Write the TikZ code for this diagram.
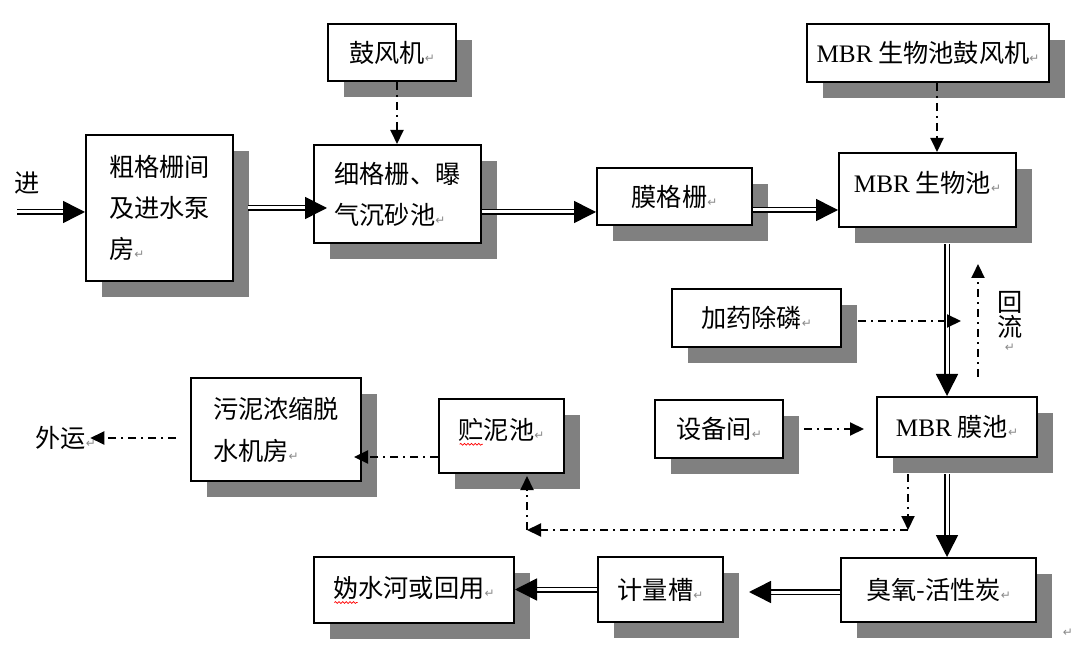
\documentclass[tikz,border=0pt]{standalone}
\usepackage{fontspec}
\setmainfont{Liberation Serif}
\newfontfamily\cjk{Noto Sans CJK SC}
\newfontfamily\djv{DejaVu Sans}
\newfontfamily\lat{Liberation Serif}
\usetikzlibrary{arrows.meta,shadows,calc,decorations.pathmorphing}
\definecolor{shgray}{HTML}{808080}
\definecolor{pmgray}{HTML}{8A8A8A}
\newcommand\ret{\textcolor{pmgray}{\djv\fontsize{6}{6}\selectfont ↵}}
\newcommand\redwave[1]{\rlap{#1}\tikz[baseline=0pt,x=1pt,y=1pt]{\path (0,0) (12.6,0);
  \draw[red, line width=0.35pt, decorate, decoration={snake,amplitude=0.45pt,segment length=1.8pt}]
    (0.5,-2.6) -- (12.1,-2.6);}}
\tikzset{
  box/.style={draw, line width=1pt, fill=white, align=left, inner sep=0pt,
    drop shadow={shadow xshift=8pt, shadow yshift=-8pt, fill=shgray, opacity=1},
    font=\cjk\fontsize{12.6}{20.5}\selectfont},
  lbl/.style={inner sep=0pt, font=\cjk\fontsize{12.6}{12.5}\selectfont},
  dbl/.style={double, double distance=1.5pt, line width=0.75pt, -{Triangle[length=11pt,width=11pt]}},
  dd/.style={line width=1pt, dash pattern=on 4pt off 2.5pt on 1pt off 2.5pt, -{Triangle[length=7pt,width=6.5pt]}},
}
\begin{document}
\begin{tikzpicture}[x=0.5pt,y=-0.5pt]
\path[fill=white,use as bounding box] (0,0) rectangle (1080,651);

% boxes
\node[box, minimum width=73.5pt, minimum height=73pt] (n1) at (159.5,208) {粗格栅间\\及进水泵\\房\ret};
\node[box, minimum width=64pt, minimum height=28.5pt] (fan1) at (392,52.5) {鼓风机\ret};
\node[box, minimum width=83.5pt, minimum height=49pt] (n2) at (397.5,194) {细格栅、曝\\气沉砂池\ret};
\node[box, minimum width=77.5pt, minimum height=28.5pt] (n3) at (674.5,196.5) {膜格栅\ret};
\node[box, minimum width=121pt, minimum height=29pt] (fan2) at (928,53) {{\lat MBR} 生物池鼓风机\ret};
\node[box, minimum width=88.5pt, minimum height=37pt, text depth=8.5pt] (n4) at (927.5,190) {{\lat MBR} 生物池\ret};
\node[box, minimum width=84.5pt, minimum height=29pt] (dose) at (756.5,318) {加药除磷\ret};
\node[box, minimum width=64pt, minimum height=29pt] (equip) at (719,429) {设备间\ret};
\node[box, minimum width=80pt, minimum height=30pt] (n5) at (957,427) {{\lat MBR} 膜池\ret};
\node[box, minimum width=85pt, minimum height=51.5pt] (dew) at (276,429.5) {污泥浓缩脱\\[0.5pt]水机房\ret};
\node[box, minimum width=62.5pt, minimum height=37pt, text depth=7.5pt] (store) at (501.5,436) {\redwave{贮}泥池\ret};
\node[box, minimum width=97.5pt, minimum height=32pt] (n6) at (938.5,590) {臭氧-活性炭\ret};
\node[box, minimum width=62.5pt, minimum height=32.5pt] (meter) at (660.5,589.5) {计量槽\ret};
\node[box, minimum width=100pt, minimum height=33pt] (out) at (414,590) {\redwave{妫}水河或回用\ret};

% labels
\node[lbl] (inlbl) at (27,183) {进};
\node[lbl, anchor=west] (ship) at (35,438) {外运\ret};
\node[lbl, anchor=north, align=center] (back) at (1010,291) {回\\流\\[-5pt]\ret};
\node[inner sep=0pt] (endmark) at (1068,633) {\ret};

% helper coordinates
\coordinate (inS) at (17,212);
\coordinate (tx) at (947,0);
\coordinate (rx) at (978,0);
\coordinate (kx) at (908,0);
\coordinate (cx) at (527,0);
\coordinate (ky) at (0,530);

% main flow (double lines)
\draw[dbl] (inS) -- (inS -| n1.west);
\draw[dbl] ([xshift=7pt]n1.east) -- ([xshift=7pt]n1.east -| n2.west);
\draw[dbl] ([yshift=-9pt]n2.east) -- ([yshift=-9pt]n2.east -| n3.west);
\draw[dbl] ([yshift=-6.75pt]n3.east) -- ([yshift=-6.75pt]n3.east -| n4.west);
\draw[dbl] ([yshift=-8pt]n4.south -| tx) -- (tx |- n5.north);
\draw[dbl] ([yshift=-8pt]n5.south -| tx) -- (tx |- n6.north);
\draw[dbl, shorten >=12.5pt] ([yshift=-1pt]n6.west) -- ([yshift=-1pt]n6.west -| meter.east);
\draw[dbl] (meter.west) -- (meter.west -| out.east);

% auxiliary flows (dash-dot)
\draw[dd] ([xshift=2.5pt]fan1.south) -- ([xshift=2.5pt]fan1.south |- n2.north);
\draw[dd] ([xshift=4.5pt]fan2.south) -- ([xshift=4.5pt]fan2.south |- n4.north);
\draw[dd] ([yshift=9.5pt]n5.north -| rx) -- ([yshift=-18pt]n4.south -| rx);
\draw[dd, shorten >=1pt] ([xshift=8pt,yshift=-1.5pt]dose.east) -- ([xshift=8pt,yshift=-1.5pt]dose.east -| tx);
\draw[dd] ([xshift=10pt]equip.east) -- ([xshift=-6pt]n5.west |- equip.east);
\draw[dd] ([yshift=-8pt]n5.south -| kx) -- (kx |- ky);
\draw[dd] (kx |- ky) -- (cx |- ky);
\draw[dd] (cx |- ky) -- ([yshift=-1pt]store.south -| cx);
\draw[dd, shorten >=-4pt] ([yshift=-10.5pt]store.west) -- ([yshift=-10.5pt]store.west -| dew.east);
\draw[dd, shorten >=4pt] ([xshift=-7pt,yshift=-4.25pt]dew.west) -- ([xshift=-7pt,yshift=-4.25pt]dew.west -| ship.east);
\end{tikzpicture}
\end{document}
